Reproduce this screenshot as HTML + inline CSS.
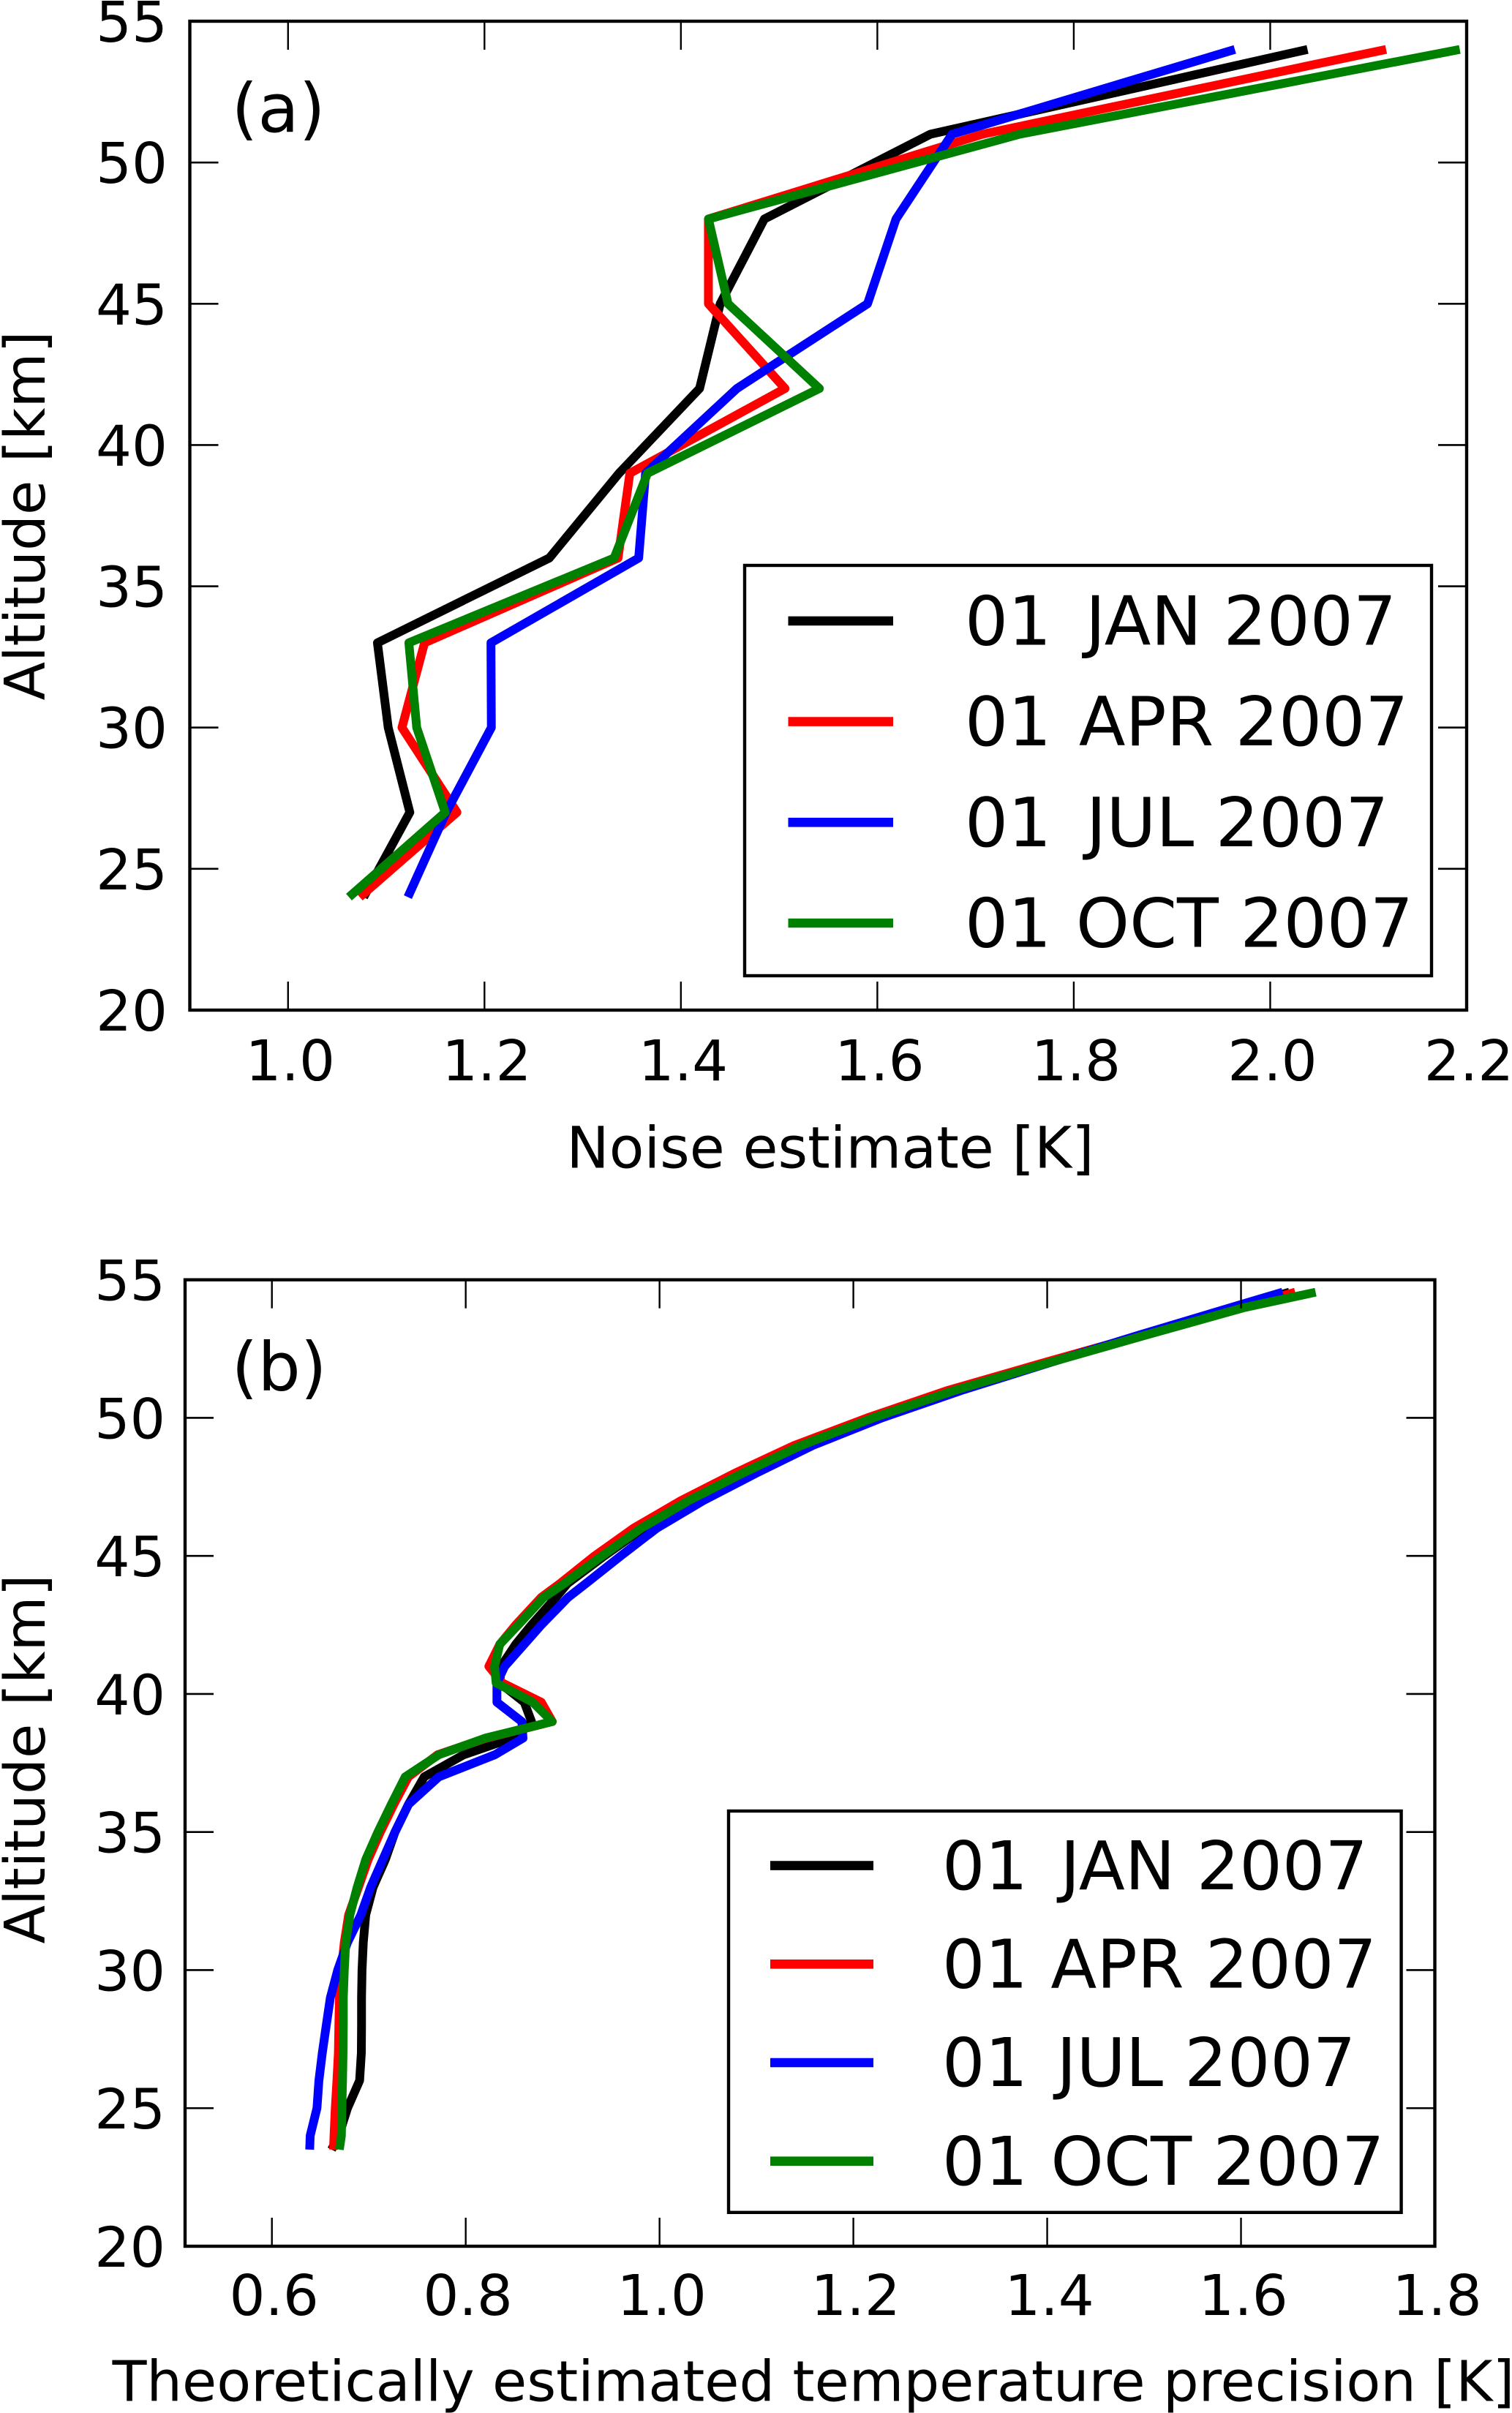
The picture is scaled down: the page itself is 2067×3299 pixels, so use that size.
<!DOCTYPE html>
<html lang="en">
<head>
<meta charset="utf-8">
<title>Noise estimate and temperature precision profiles</title>
<style>
html,body{margin:0;padding:0;background:#fff;}
svg{display:block;}
text{font-family:"DejaVu Sans",sans-serif;fill:#000;white-space:pre;}
</style>
</head>
<body>
<svg id="figure" xmlns="http://www.w3.org/2000/svg" width="2067" height="3299" viewBox="0 0 2067 3299">
<rect x="0" y="0" width="2067" height="3299" fill="#fff"/>
</svg>
<script>
const seriesLabels = ['01 JAN 2007', '01 APR 2007', '01 JUL 2007', '01 OCT 2007'];
const seriesSlugs = ['jan', 'apr', 'jul', 'oct'];
const yTickValues = [20, 25, 30, 35, 40, 45, 50, 55];

const xTicksA = [1.0, 1.2, 1.4, 1.6, 1.8, 2.0, 2.2];
const altitudeA = [24, 27, 30, 33, 36, 39, 42, 45, 48, 51, 54];
const noiseJan = [1.077, 1.124, 1.102, 1.091, 1.266, 1.337, 1.419, 1.44, 1.485, 1.654, 2.038];
const noiseApr = [1.073, 1.172, 1.116, 1.139, 1.336, 1.348, 1.506, 1.428, 1.428, 1.707, 2.118];
const noiseJul = [1.122, 1.161, 1.207, 1.2066, 1.357, 1.364, 1.457, 1.59, 1.619, 1.676, 1.964];
const noiseOct = [1.062, 1.16, 1.131, 1.123, 1.332, 1.366, 1.541, 1.448, 1.428, 1.745, 2.193];

const xTicksB = [0.6, 0.8, 1.0, 1.2, 1.4, 1.6, 1.8];
const altitudeB = [23.5, 24, 25, 26, 27, 28, 29, 30, 31, 32, 33, 34, 35, 36, 37, 37.8, 38.4, 39, 39.7, 40.4, 41, 41.8, 42.5, 43.5, 44, 45, 46, 47, 48, 49, 50, 51, 52, 53, 54, 54.55];
const precisionJan = [0.6616, 0.669, 0.678, 0.6905, 0.6923, 0.6925, 0.6925, 0.693, 0.6943, 0.6968, 0.7044, 0.717, 0.727, 0.7409, 0.7572, 0.798, 0.8478, 0.8679, 0.8604, 0.8352, 0.8365, 0.8516, 0.8679, 0.8931, 0.905, 0.943, 0.983, 1.032, 1.086, 1.146, 1.2205, 1.302, 1.4, 1.498, 1.596, 1.65];
const precisionApr = [0.6636, 0.6641, 0.6654, 0.6671, 0.6686, 0.6691, 0.6697, 0.6717, 0.6747, 0.6792, 0.6893, 0.6993, 0.7119, 0.7258, 0.7409, 0.771, 0.8214, 0.8893, 0.878, 0.8377, 0.8239, 0.8352, 0.8516, 0.878, 0.8973, 0.933, 0.973, 1.022, 1.078, 1.139, 1.2145, 1.298, 1.397, 1.498, 1.6, 1.656];
const precisionJul = [0.639, 0.6395, 0.6465, 0.6485, 0.652, 0.6561, 0.6603, 0.6679, 0.678, 0.6918, 0.7019, 0.7144, 0.727, 0.7409, 0.7723, 0.8302, 0.8591, 0.8579, 0.8322, 0.8322, 0.8402, 0.8604, 0.878, 0.9057, 0.924, 0.96, 0.997, 1.045, 1.1, 1.158, 1.2295, 1.312, 1.403, 1.495, 1.59, 1.643];
const precisionOct = [0.6696, 0.6717, 0.6722, 0.6729, 0.6734, 0.6737, 0.6737, 0.6747, 0.6762, 0.6805, 0.688, 0.6968, 0.7094, 0.7232, 0.7376, 0.7723, 0.8201, 0.8893, 0.8692, 0.8314, 0.8297, 0.8352, 0.8541, 0.8805, 0.9017, 0.9408, 0.981, 1.03, 1.086, 1.146, 1.2205, 1.305, 1.402, 1.502, 1.604, 1.677];

const seriesColors = ['#000000', '#ff0000', '#0000ff', '#008000'];
const svg = document.getElementById('figure');
const NS = 'http://www.w3.org/2000/svg';

function make(parent, tag, attrs, text) {
  const el = document.createElementNS(NS, tag);
  for (const k in attrs) el.setAttribute(k, attrs[k]);
  if (text !== undefined) el.textContent = text;
  parent.appendChild(el);
  return el;
}

function drawPanel(p) {
  const xAt = v => p.left + (v - p.xMin) / (p.xMax - p.xMin) * (p.right - p.left);
  const yAt = v => p.bottom - (v - p.yMin) / (p.yMax - p.yMin) * (p.bottom - p.top);

  const g = make(svg, 'g', {});
  
  

  p.series.forEach((values, i) => {
    const d = values.map((v, j) => (j ? 'L' : 'M') + xAt(v).toFixed(2) + ' ' + yAt(p.altitude[j]).toFixed(2)).join(' ');
    const line = make(g, 'path', {d: d, fill: 'none', stroke: seriesColors[i], 'stroke-width': p.lineWidth, 'stroke-linejoin': 'round', 'stroke-linecap': 'butt'});
    
    
  });

  p.xTicks.forEach(v => {
    const x = xAt(v);
    const tb = make(g, 'line', {x1: x, x2: x, y1: p.bottom, y2: p.bottom - 39, stroke: '#000', 'stroke-width': 2.4});
    
    
    const tt = make(g, 'line', {x1: x, x2: x, y1: p.top, y2: p.top + 39, stroke: '#000', 'stroke-width': 2.4});
    
    
    const lab = make(g, 'text', {x: x + 3, y: p.xTickBaseline, 'font-size': 77, 'text-anchor': 'middle'}, v.toFixed(1));
    
    
  });

  yTickValues.forEach(v => {
    const y = yAt(v);
    const tl = make(g, 'line', {x1: p.left, x2: p.left + 39, y1: y, y2: y, stroke: '#000', 'stroke-width': 2.6});
    
    
    const tr = make(g, 'line', {x1: p.right, x2: p.right - 39, y1: y, y2: y, stroke: '#000', 'stroke-width': 2.6});
    
    
    const lab = make(g, 'text', {x: p.yTickRight, y: y + 28, 'font-size': p.yTickFont, 'text-anchor': 'end'}, String(v));
    
    
  });

  const frame = make(g, 'rect', {x: p.left, y: p.top, width: p.right - p.left, height: p.bottom - p.top, fill: 'none', stroke: '#000', 'stroke-width': 4.4});
  
  

  const xTitle = make(g, 'text', {x: p.xTitleX, y: p.xTitleY, 'font-size': p.xTitleFont, 'text-anchor': 'middle'}, p.xTitle);
  
  

  const yTitle = make(g, 'text', {x: 0, y: 0, 'font-size': 77, 'text-anchor': 'middle', transform: 'translate(61 ' + p.yTitleY + ') rotate(-90)'}, 'Altitude [km]');
  
  

  const tag = make(g, 'text', {x: 316.5, y: p.tagY, 'font-size': 92}, '(' + p.id + ')');
  
  

  const lg = make(g, 'g', {});
  
  
  const box = make(lg, 'rect', {x: p.legend.left, y: p.legend.top, width: p.legend.right - p.legend.left, height: p.legend.bottom - p.legend.top, fill: '#fff', stroke: '#000', 'stroke-width': 4.4});
  
  
  seriesLabels.forEach((label, i) => {
    const base = p.legend.firstBaseline + i * p.legend.rowGap;
    const sw = make(lg, 'line', {x1: p.legend.lineX1, x2: p.legend.lineX2, y1: base - p.legend.lineRise, y2: base - p.legend.lineRise, stroke: seriesColors[i], 'stroke-width': 12.6});
    
    
    const txt = make(lg, 'text', {x: p.legend.textX, y: base, 'font-size': p.legend.fontSize}, label.slice(0, 3));
    
    
    make(txt, 'tspan', {dx: p.legend.monthGap[i]}, label.slice(3));
  });
}

drawPanel({
  id: 'a', left: 259.5, right: 2005, top: 29, bottom: 1381,
  xMin: 0.9, xMax: 2.2, yMin: 20, yMax: 55,
  altitude: altitudeA, series: [noiseJan, noiseApr, noiseJul, noiseOct], xTicks: xTicksA,
  lineWidth: 12, xTickBaseline: 1477, yTickRight: 229, yTickFont: 77,
  xTitle: 'Noise estimate [K]', xTitleX: 1135, xTitleY: 1596.7, xTitleFont: 78, yTitleY: 705, tagY: 180,
  legend: {left: 1018, right: 1957, top: 773, bottom: 1334, lineX1: 1077.5, lineX2: 1221, textX: 1319, fontSize: 93, firstBaseline: 881.5, rowGap: 137.7, lineRise: 32.6, monthGap: [17, 8, 18, 4]}
});

drawPanel({
  id: 'b', left: 253, right: 1961.5, top: 1749.7, bottom: 3071,
  xMin: 0.5104, xMax: 1.8, yMin: 20, yMax: 55,
  altitude: altitudeB, series: [precisionJan, precisionApr, precisionJul, precisionOct], xTicks: xTicksB,
  lineWidth: 12, xTickBaseline: 3165, yTickRight: 226, yTickFont: 76,
  xTitle: 'Theoretically estimated temperature precision [K]', xTitleX: 1112, xTitleY: 3282.7, xTitleFont: 76.7, yTitleY: 2405, tagY: 1901,
  legend: {left: 996, right: 1915.6, top: 2476, bottom: 3024.8, lineX1: 1053, lineX2: 1194, textX: 1288, fontSize: 92, firstBaseline: 2582.8, rowGap: 134.7, lineRise: 32.2, monthGap: [15, 2, 10, 2]}
});
</script>
</body>
</html>
